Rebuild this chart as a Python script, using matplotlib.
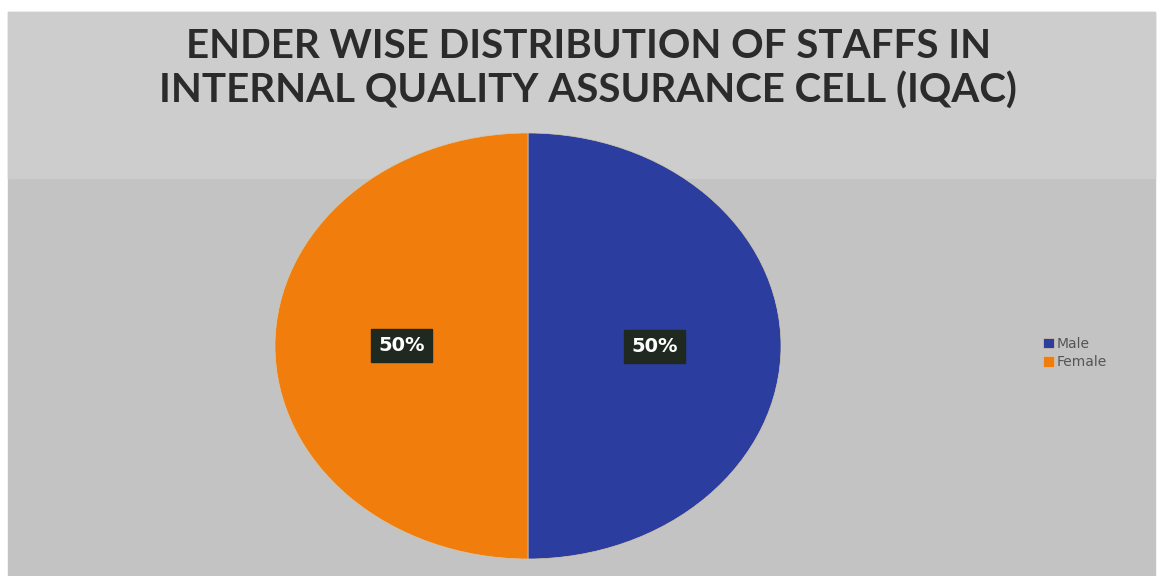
import matplotlib.pyplot as plt
from matplotlib.patches import Rectangle

labels = ["Male", "Female"]
values = [50, 50]
colors = ["#2b3d9e", "#f07d0c"]
title = "ENDER WISE DISTRIBUTION OF STAFFS IN\nINTERNAL QUALITY ASSURANCE CELL (IQAC)"

def main():
    fig = plt.figure(figsize=(11.6, 5.76), dpi=100)
    fig.patch.set_facecolor("white")

    # background panels
    fig.patches.append(Rectangle((8 / 1160, 0), 1147 / 1160, 1 - 12 / 576,
                                 transform=fig.transFigure, color="#c3c3c3", zorder=-2))
    fig.patches.append(Rectangle((8 / 1160, 1 - 178 / 576), 1147 / 1160, 166 / 576,
                                 transform=fig.transFigure, color="#cdcdcd", zorder=-1))

    fig.text(0.507, 1 - 69 / 576, title, ha="center", va="center",
             fontsize=29, family="Lato", fontweight="bold", color="#2b2b2b",
             linespacing=1.2)

    ax = fig.add_axes([275 / 1160, 17 / 576, 506 / 1160, 426 / 576])
    ax.patch.set_alpha(0)
    wedges, texts, autotexts = ax.pie(values, colors=colors, startangle=90,
                                      counterclock=False, autopct="%d%%",
                                      pctdistance=0.5, radius=1,
                                      wedgeprops=dict(edgecolor="#d8c8a8", linewidth=0.5))
    for t in autotexts:
        t.set_color("white")
        t.set_fontweight("bold")
        t.set_fontsize(14)
        t.set_bbox(dict(facecolor="#1f291f", edgecolor="#1f291f", pad=5))
    ax.set_aspect("auto")
    ax.set_xlim(-1, 1)
    ax.set_ylim(-1, 1)
    ax.axis("off")

    leg = fig.legend(wedges, labels, loc="center left",
                     bbox_to_anchor=(1030 / 1160, 1 - 353 / 576),
                     frameon=False, fontsize=10, handlelength=0.8,
                     handleheight=0.8, handletextpad=0.2, labelspacing=0.3)
    for t in leg.get_texts():
        t.set_color("#555555")

    fig.savefig("out.png", dpi=100, facecolor=fig.get_facecolor())

if __name__ == "__main__":
    main()
